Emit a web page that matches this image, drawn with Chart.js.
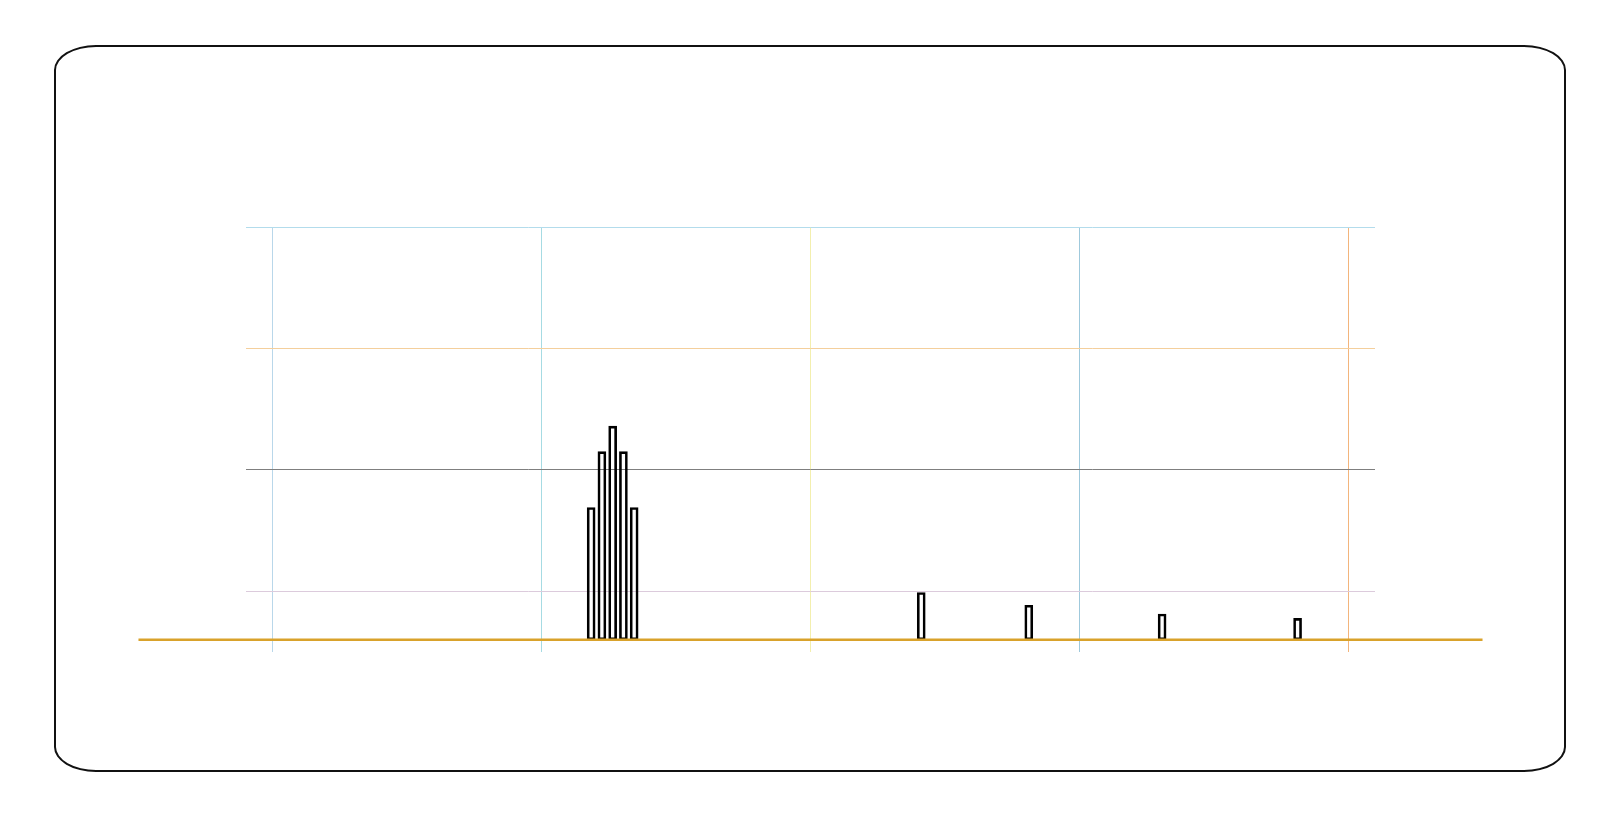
<!DOCTYPE html>
<html>
<head>
<meta charset="utf-8">
<script src="https://cdn.jsdelivr.net/npm/chart.js@4"></script>
<style>
  html, body { margin: 0; padding: 0; background: #ffffff; }
  #wrap { position: relative; width: 1620px; height: 819px; }
  #frame {
    position: absolute; left: 54px; top: 45px; width: 1512px; height: 727px;
    box-sizing: border-box; border: 2px solid #111; border-radius: 42px / 25px;
  }
  #c { position: absolute; left: 0; top: 0; }
</style>
</head>
<body>
<div id="wrap">
  <div id="frame"></div>
  <canvas id="c" width="1620" height="819"></canvas>
</div>
<script>
// ---- data ----
const barPositions = [29.6, 30.6, 31.6, 32.6, 33.6, 60.3, 70.3, 82.7, 95.3];
const barValues    = [16.9, 21.5, 23.6, 21.5, 16.9, 9.9, 8.85, 8.13, 7.77];
const baseValue    = 6;
const baselineSpan = [-12.5, 112.5];
const xTicks = [0, 25, 50, 75, 100];
const yTicks = [10, 20, 30, 40];
const xRange = [-2.5, 102.5];
const yRange = [5, 40];

// ---- styles ----
const xGridColors = ['#b9d7ea', '#a6dbe3', '#f3efae', '#9fc9dc', '#f3b57c'];
const yGridColors = {10: '#dccbdc', 20: '#7f7f7f', 30: '#f4cf9c', 40: '#b3dcec'};

const barData = barPositions.map((x, i) => ({ x: x, y: [baseValue, barValues[i]] }));
const lineData = baselineSpan.map(x => ({ x: x, y: baseValue }));

new Chart(document.getElementById('c'), {
  type: 'bar',
  data: {
    datasets: [
      {
        type: 'line',
        data: lineData,
        borderColor: '#d9a22b',
        borderWidth: 2.5,
        pointRadius: 0,
        clip: false,
        order: 0
      },
      {
        type: 'bar',
        data: barData,
        backgroundColor: 'rgba(255,255,255,0)',
        borderColor: '#000000',
        borderWidth: 2,
        borderSkipped: false,
        barThickness: 8,
        order: 1
      }
    ]
  },
  options: {
    responsive: false,
    animation: false,
    events: [],
    layout: { padding: { left: 246, right: 245, top: 227, bottom: 167 } },
    plugins: { legend: { display: false }, tooltip: { enabled: false }, title: { display: false } },
    scales: {
      x: {
        type: 'linear',
        min: xRange[0], max: xRange[1],
        offset: false,
        afterBuildTicks: s => { s.ticks = xTicks.map(v => ({ value: v })); },
        ticks: { display: false },
        border: { display: false },
        grid: {
          offset: false,
          drawTicks: false,
          lineWidth: 1,
          color: ctx => xGridColors[ctx.index] || '#cccccc'
        }
      },
      y: {
        type: 'linear',
        min: yRange[0], max: yRange[1],
        afterBuildTicks: s => { s.ticks = yTicks.map(v => ({ value: v })); },
        ticks: { display: false },
        border: { display: false },
        grid: {
          drawTicks: false,
          lineWidth: 1,
          color: ctx => (ctx.tick ? yGridColors[ctx.tick.value] : '#cccccc') || '#cccccc'
        }
      }
    }
  }
});
</script>
</body>
</html>
